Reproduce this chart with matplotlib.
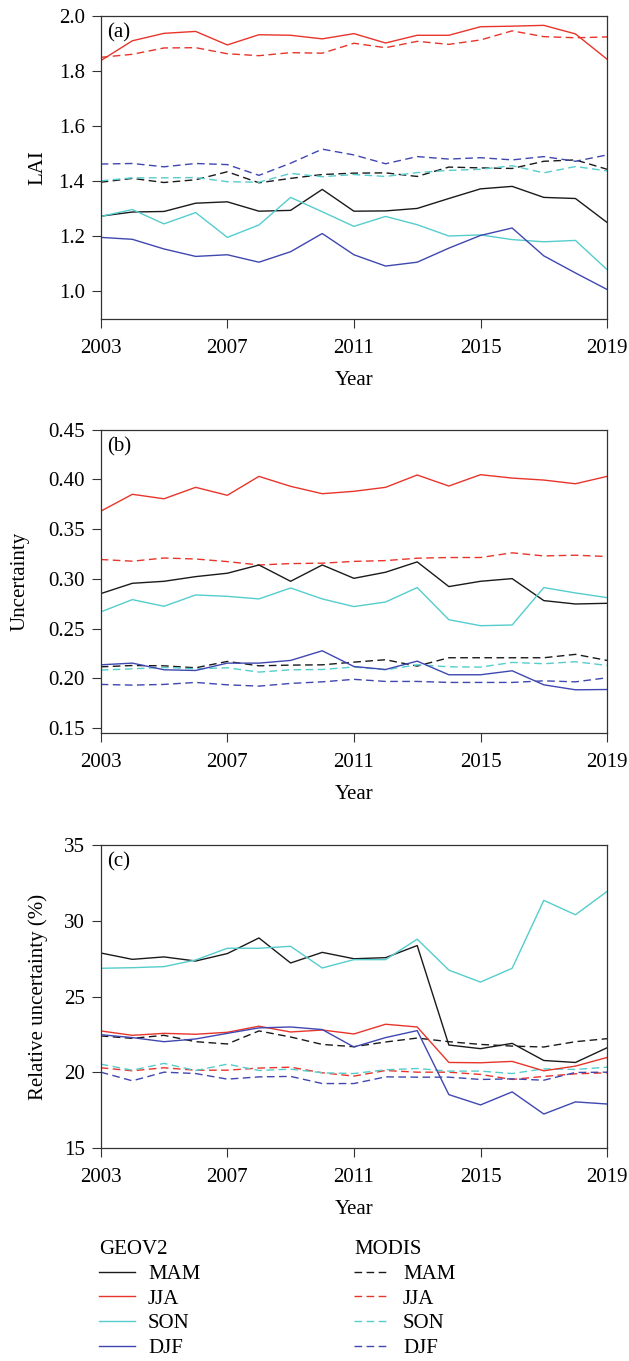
import matplotlib
matplotlib.use("Agg")
import matplotlib.pyplot as plt
from matplotlib.lines import Line2D

plt.rcParams["font.family"] = ["Liberation Serif", "DejaVu Serif"]

years = list(range(2003, 2020))
seasons = ["MAM", "JJA", "SON", "DJF"]
colors = {"MAM": "#1a1a1a", "JJA": "#e8352b", "SON": "#55cdcd", "DJF": "#3f47b0"}

# (a) LAI
lai_geov2_mam = [1.273, 1.288, 1.290, 1.320, 1.325, 1.291, 1.294, 1.370, 1.291, 1.292, 1.301, 1.337, 1.372, 1.381, 1.341, 1.337, 1.250]
lai_geov2_jja = [1.837, 1.909, 1.936, 1.943, 1.894, 1.931, 1.929, 1.916, 1.935, 1.901, 1.929, 1.929, 1.960, 1.962, 1.965, 1.934, 1.842]
lai_geov2_son = [1.272, 1.297, 1.245, 1.286, 1.196, 1.241, 1.341, 1.289, 1.236, 1.272, 1.242, 1.201, 1.205, 1.188, 1.180, 1.185, 1.079]
lai_geov2_djf = [1.196, 1.189, 1.154, 1.127, 1.133, 1.106, 1.144, 1.210, 1.133, 1.092, 1.106, 1.157, 1.203, 1.230, 1.129, 1.067, 1.007]
lai_modis_mam = [1.396, 1.410, 1.395, 1.405, 1.434, 1.394, 1.410, 1.424, 1.429, 1.430, 1.417, 1.451, 1.448, 1.446, 1.472, 1.477, 1.443]
lai_modis_jja = [1.849, 1.860, 1.883, 1.884, 1.862, 1.855, 1.866, 1.864, 1.900, 1.884, 1.907, 1.896, 1.912, 1.945, 1.924, 1.920, 1.923]
lai_modis_son = [1.401, 1.412, 1.412, 1.413, 1.398, 1.396, 1.428, 1.416, 1.424, 1.417, 1.431, 1.439, 1.443, 1.456, 1.430, 1.453, 1.437]
lai_modis_djf = [1.462, 1.464, 1.452, 1.464, 1.460, 1.421, 1.465, 1.516, 1.495, 1.463, 1.489, 1.480, 1.485, 1.477, 1.489, 1.472, 1.495]

# (b) uncertainty
unc_geov2_mam = [0.2852, 0.2956, 0.2976, 0.3023, 0.3057, 0.3140, 0.2976, 0.3140, 0.3006, 0.3067, 0.3171, 0.2923, 0.2976, 0.3003, 0.2782, 0.2748, 0.2755]
unc_geov2_jja = [0.3680, 0.3850, 0.3805, 0.3920, 0.3840, 0.4030, 0.3930, 0.3856, 0.3880, 0.3920, 0.4044, 0.3933, 0.4047, 0.4013, 0.3993, 0.3956, 0.4030]
unc_geov2_son = [0.2668, 0.2792, 0.2725, 0.2839, 0.2825, 0.2799, 0.2909, 0.2799, 0.2722, 0.2768, 0.2913, 0.2590, 0.2530, 0.2537, 0.2913, 0.2859, 0.2812]
unc_geov2_djf = [0.2137, 0.2154, 0.2087, 0.2080, 0.2154, 0.2154, 0.2181, 0.2278, 0.2120, 0.2090, 0.2174, 0.2037, 0.2037, 0.2077, 0.1936, 0.1886, 0.1889]
unc_modis_mam = [0.2117, 0.2130, 0.2127, 0.2107, 0.2171, 0.2127, 0.2134, 0.2137, 0.2164, 0.2188, 0.2124, 0.2208, 0.2208, 0.2208, 0.2208, 0.2242, 0.2181]
unc_modis_jja = [0.3195, 0.3178, 0.3210, 0.3200, 0.3174, 0.3140, 0.3154, 0.3158, 0.3176, 0.3184, 0.3208, 0.3215, 0.3215, 0.3262, 0.3231, 0.3238, 0.3225]
unc_modis_son = [0.2084, 0.2097, 0.2110, 0.2097, 0.2107, 0.2064, 0.2087, 0.2090, 0.2115, 0.2087, 0.2137, 0.2117, 0.2114, 0.2161, 0.2148, 0.2168, 0.2131]
unc_modis_djf = [0.1940, 0.1933, 0.1940, 0.1960, 0.1936, 0.1923, 0.1950, 0.1966, 0.1991, 0.1970, 0.1970, 0.1960, 0.1960, 0.1960, 0.1976, 0.1966, 0.2007]

# (c) relative uncertainty (%)
rel_geov2_mam = [27.88, 27.46, 27.62, 27.35, 27.84, 28.87, 27.22, 27.92, 27.50, 27.57, 28.37, 21.81, 21.57, 21.92, 20.79, 20.66, 21.63]
rel_geov2_jja = [22.74, 22.45, 22.58, 22.52, 22.65, 23.05, 22.67, 22.80, 22.54, 23.18, 23.00, 20.66, 20.64, 20.73, 20.11, 20.42, 20.99]
rel_geov2_son = [26.87, 26.91, 26.98, 27.42, 28.19, 28.19, 28.32, 26.89, 27.44, 27.44, 28.79, 26.75, 25.96, 26.87, 31.35, 30.40, 31.94]
rel_geov2_djf = [22.49, 22.30, 22.03, 22.21, 22.58, 22.94, 23.00, 22.83, 21.68, 22.30, 22.76, 18.54, 17.86, 18.72, 17.26, 18.06, 17.92]
rel_modis_mam = [22.41, 22.25, 22.45, 22.03, 21.88, 22.74, 22.34, 21.85, 21.70, 22.01, 22.27, 22.03, 21.85, 21.74, 21.68, 22.03, 22.23]
rel_modis_jja = [20.31, 20.11, 20.31, 20.15, 20.15, 20.29, 20.35, 19.98, 19.76, 20.13, 20.02, 20.02, 19.87, 19.54, 19.74, 19.91, 19.98]
rel_modis_son = [20.55, 20.15, 20.60, 20.13, 20.55, 20.13, 20.22, 19.98, 19.93, 20.18, 20.26, 20.09, 20.09, 19.93, 20.24, 20.20, 20.35]
rel_modis_djf = [20.02, 19.45, 20.02, 19.93, 19.56, 19.71, 19.74, 19.27, 19.27, 19.71, 19.69, 19.69, 19.54, 19.58, 19.49, 20.00, 20.02]

panels = [
    ("(a)", "LAI", (0.9, 2.0), [1.0, 1.2, 1.4, 1.6, 1.8, 2.0], "{:.1f}", 47,
     [lai_geov2_mam, lai_geov2_jja, lai_geov2_son, lai_geov2_djf],
     [lai_modis_mam, lai_modis_jja, lai_modis_son, lai_modis_djf]),
    ("(b)", "Uncertainty", (0.1453, 0.45), [0.15, 0.20, 0.25, 0.30, 0.35, 0.40, 0.45], "{:.2f}", 30,
     [unc_geov2_mam, unc_geov2_jja, unc_geov2_son, unc_geov2_djf],
     [unc_modis_mam, unc_modis_jja, unc_modis_son, unc_modis_djf]),
    ("(c)", "Relative uncertainty (%)", (15, 35), [15, 20, 25, 30, 35], "{:.0f}", 48,
     [rel_geov2_mam, rel_geov2_jja, rel_geov2_son, rel_geov2_djf],
     [rel_modis_mam, rel_modis_jja, rel_modis_son, rel_modis_djf]),
]

W, H = 629, 1361
fig = plt.figure(figsize=(W / 100, H / 100), dpi=100)
FS = 15
DASH = (5.5, 3.2)
LW = 1.0
spine_c = "#333333"

tops = [15.7, 429.6, 845.0]
ax_h = 303.3
x0, x1 = 100.7, 607.1

for (tag, ylab, ylim, yt, fmt, ylab_x, geo, mod), top in zip(panels, tops):
    ax = fig.add_axes([x0 / W, 1 - (top + ax_h) / H, (x1 - x0) / W, ax_h / H])
    for s, g, m in zip(seasons, geo, mod):
        ax.plot(years, m, color=colors[s], lw=LW, ls=(0, DASH))
    for s, g, m in zip(seasons, geo, mod):
        ax.plot(years, g, color=colors[s], lw=LW)
    ax.set_xlim(2003, 2019)
    ax.set_ylim(*ylim)
    ax.set_xticks([2003, 2007, 2011, 2015, 2019])
    ax.set_yticks(yt)
    ax.set_yticklabels([fmt.format(v) for v in yt])
    ax.tick_params(direction="out", length=6.5, width=0.8, color=spine_c,
                   labelsize=FS, top=False, right=False)
    ax.tick_params(axis="x", pad=8)
    ax.tick_params(axis="y", pad=5)
    for sp in ax.spines.values():
        sp.set_color(spine_c)
        sp.set_linewidth(0.9)
    ax.set_xlabel("Year", fontsize=FS, labelpad=9)
    ax.set_ylabel(ylab, fontsize=FS)
    ax.yaxis.set_label_coords((ylab_x - x0) / (x1 - x0), 0.5)
    ax.text(0.012, 0.975, tag, transform=ax.transAxes, ha="left", va="top", fontsize=FS)

geo_handles = [Line2D([], [], color=colors[s], lw=LW) for s in seasons]
mod_handles = [Line2D([], [], color=colors[s], lw=LW, ls=(0, DASH)) for s in seasons]
common = dict(frameon=False, fontsize=FS, title_fontsize=FS, handlelength=1.75,
              handletextpad=0.6, labelspacing=0.25, borderpad=0, borderaxespad=0,
              loc="upper left", alignment="left")
fig.legend(geo_handles, seasons, title="GEOV2",
           bbox_to_anchor=(99 / W, 1 - 1240 / H), **common)
fig.legend(mod_handles, seasons, title="MODIS",
           bbox_to_anchor=(354 / W, 1 - 1240 / H), **common)

fig.savefig("out.png", dpi=100)
